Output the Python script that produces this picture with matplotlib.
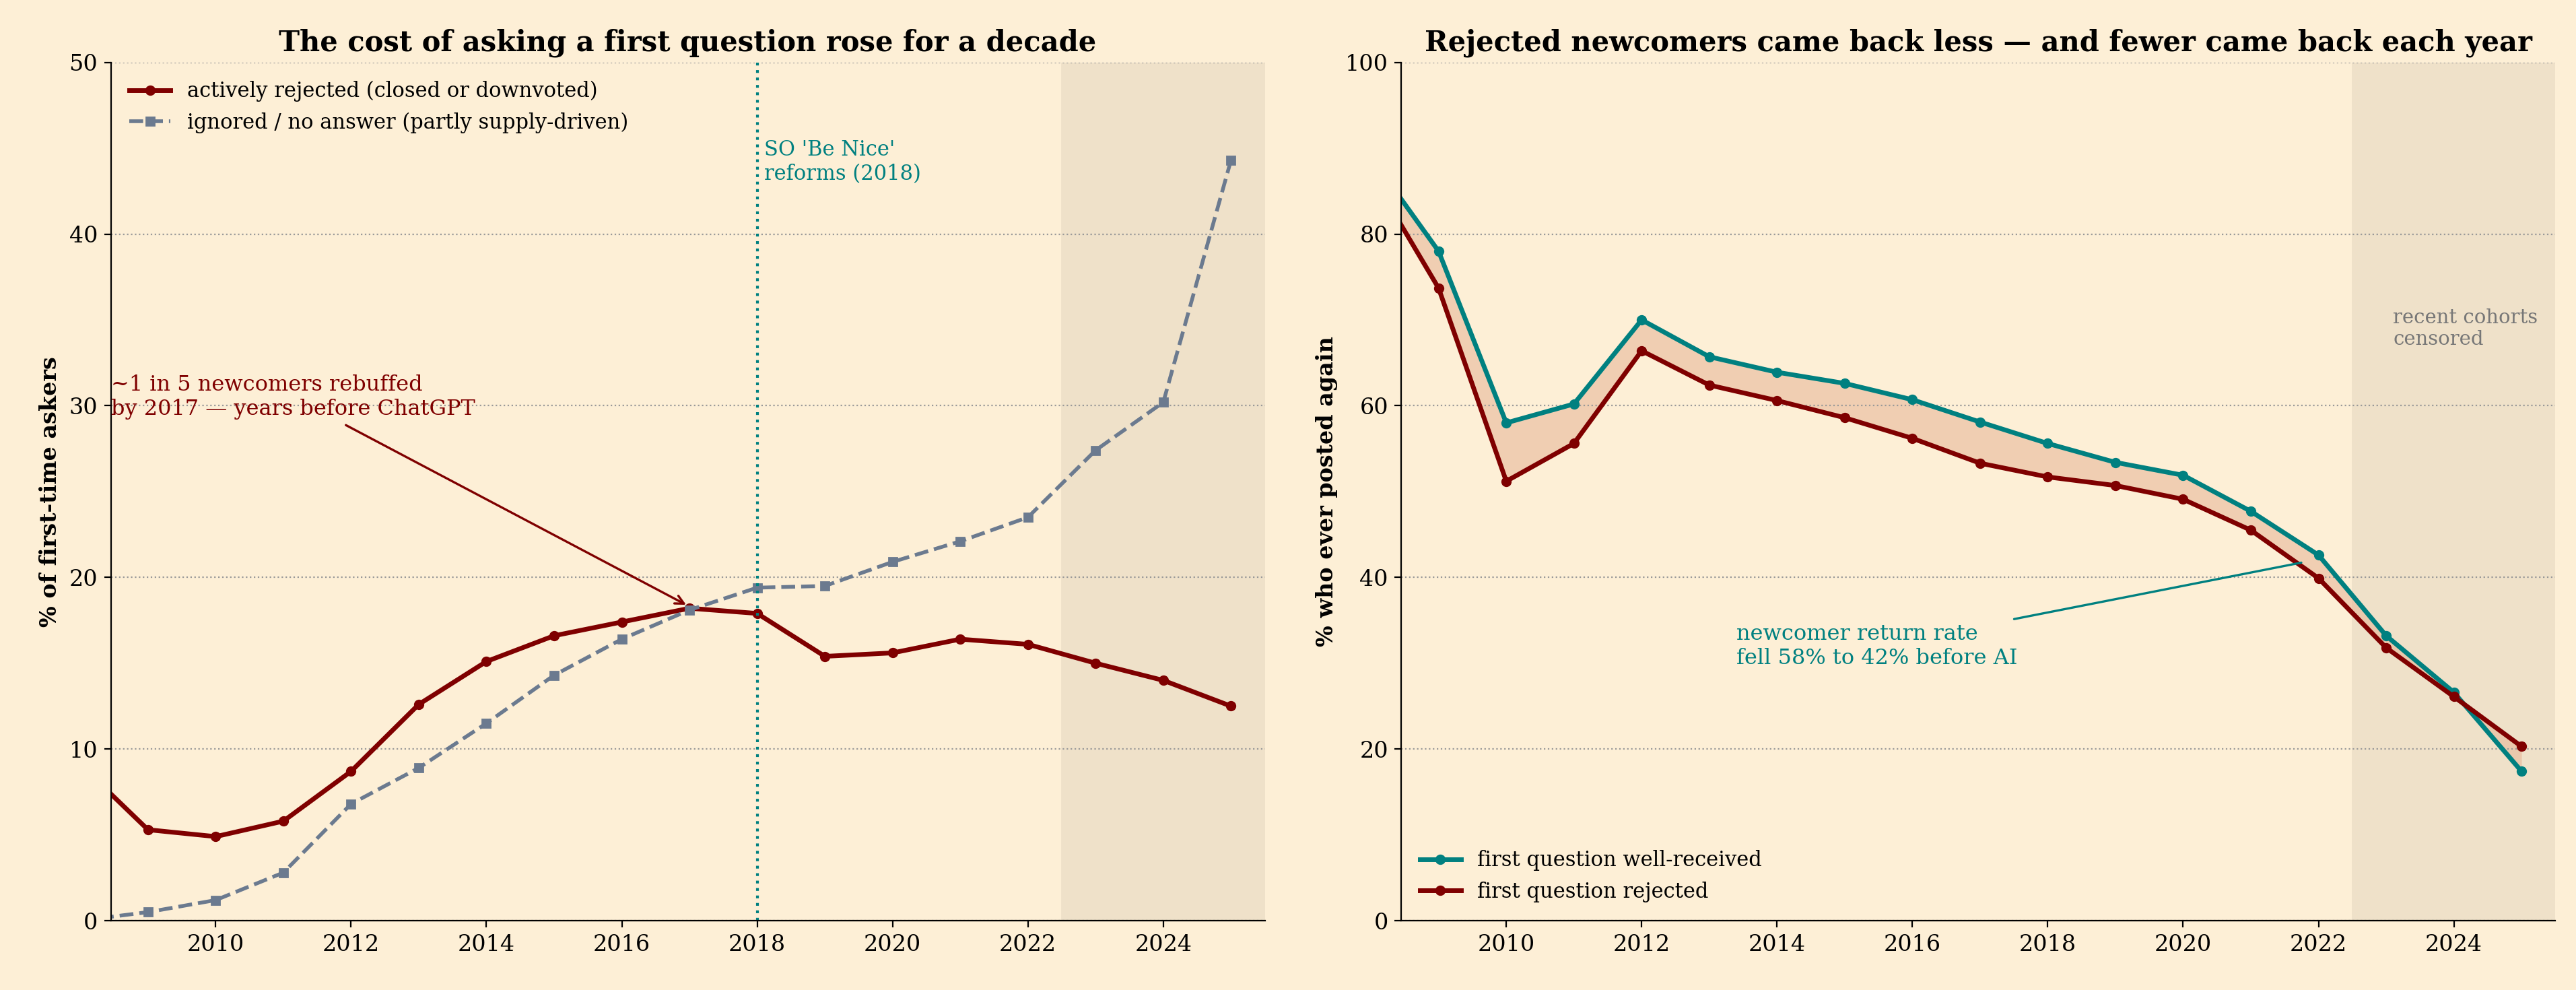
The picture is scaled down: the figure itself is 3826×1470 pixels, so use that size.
import numpy as np
import matplotlib.pyplot as plt

plt.rcParams['font.family'] = ['DejaVu Serif']

years = np.arange(2008, 2026)
rejected = [9.1, 5.3, 4.9, 5.8, 8.7, 12.6, 15.1, 16.6, 17.4, 18.2, 17.9, 15.4, 15.6, 16.4, 16.1, 15.0, 14.0, 12.5]
ignored = [0.0, 0.5, 1.2, 2.8, 6.8, 8.9, 11.5, 14.3, 16.4, 18.1, 19.4, 19.5, 20.9, 22.1, 23.5, 27.4, 30.2, 44.3]
ret_good = [89, 78, 58, 60.2, 70, 65.7, 63.9, 62.6, 60.7, 58.1, 55.6, 53.4, 51.9, 47.7, 42.6, 33.2, 26.6, 17.4]
ret_bad = [87, 73.7, 51.2, 55.6, 66.4, 62.4, 60.6, 58.6, 56.2, 53.3, 51.7, 50.7, 49.1, 45.5, 39.9, 31.8, 26.1, 20.3]

bg = '#fdefd6'
shade = '#efe1c9'
red = '#7f0000'
grey = '#6b7a8f'
teal = '#008080'

fig = plt.figure(figsize=(19.13, 7.35), dpi=200, facecolor=bg)
ax1 = fig.add_axes([0.043, 0.070, 0.448, 0.867], facecolor=bg)
ax2 = fig.add_axes([0.544, 0.070, 0.448, 0.867], facecolor=bg)

for ax in (ax1, ax2):
    ax.axvspan(2022.5, 2025.5, color=shade, zorder=0)
    ax.set_xlim(2008.45, 2025.5)
    ax.set_xticks(range(2010, 2025, 2))
    ax.grid(axis='y', color='#999999', ls=':', lw=0.8)
    ax.spines['top'].set_visible(False)
    ax.spines['right'].set_visible(False)
    ax.tick_params(labelsize=12)

# left panel
ax1.plot(years, rejected, '-o', color=red, lw=2.5, ms=4.5, label='actively rejected (closed or downvoted)')
ax1.plot(years, ignored, '--s', color=grey, lw=2, ms=4, label='ignored / no answer (partly supply-driven)')
ax1.axvline(2018, color=teal, ls=':', lw=1.5)
ax1.text(2018.1, 45.5, "SO 'Be Nice'\nreforms (2018)", color=teal, fontsize=11, va='top')
ax1.annotate('~1 in 5 newcomers rebuffed\nby 2017 — years before ChatGPT', xy=(2017, 18.3), xytext=(2008.45, 30.5),
             color=red, fontsize=11.5, va='center',
             arrowprops=dict(arrowstyle='->', color=red, lw=1.2))
ax1.set_ylim(0, 50)
ax1.set_ylabel('% of first-time askers', fontsize=12, fontweight='bold')
ax1.set_title('The cost of asking a first question rose for a decade', fontsize=15, fontweight='bold')
ax1.legend(loc='upper left', frameon=False, fontsize=11)

# right panel
ax2.fill_between(years, ret_bad, ret_good, color='#e8b89a', alpha=0.6, lw=0)
ax2.plot(years, ret_good, '-o', color=teal, lw=2.5, ms=4.5, label='first question well-received')
ax2.plot(years, ret_bad, '-o', color=red, lw=2.5, ms=4.5, label='first question rejected')
ax2.annotate('newcomer return rate\nfell 58% to 42% before AI', xy=(2021.8, 41.8), xytext=(2013.4, 32),
             color=teal, fontsize=11.5, va='center',
             arrowprops=dict(arrowstyle='-', color=teal, lw=1.2))
ax2.text(2023.1, 69, 'recent cohorts\ncensored', color='#777777', fontsize=10.5, va='center')
ax2.set_ylim(0, 100)
ax2.set_ylabel('% who ever posted again', fontsize=12, fontweight='bold')
ax2.set_title('Rejected newcomers came back less — and fewer came back each year', fontsize=15, fontweight='bold')
ax2.legend(loc='lower left', frameon=False, fontsize=11)

fig.savefig('out.png', facecolor=bg)
